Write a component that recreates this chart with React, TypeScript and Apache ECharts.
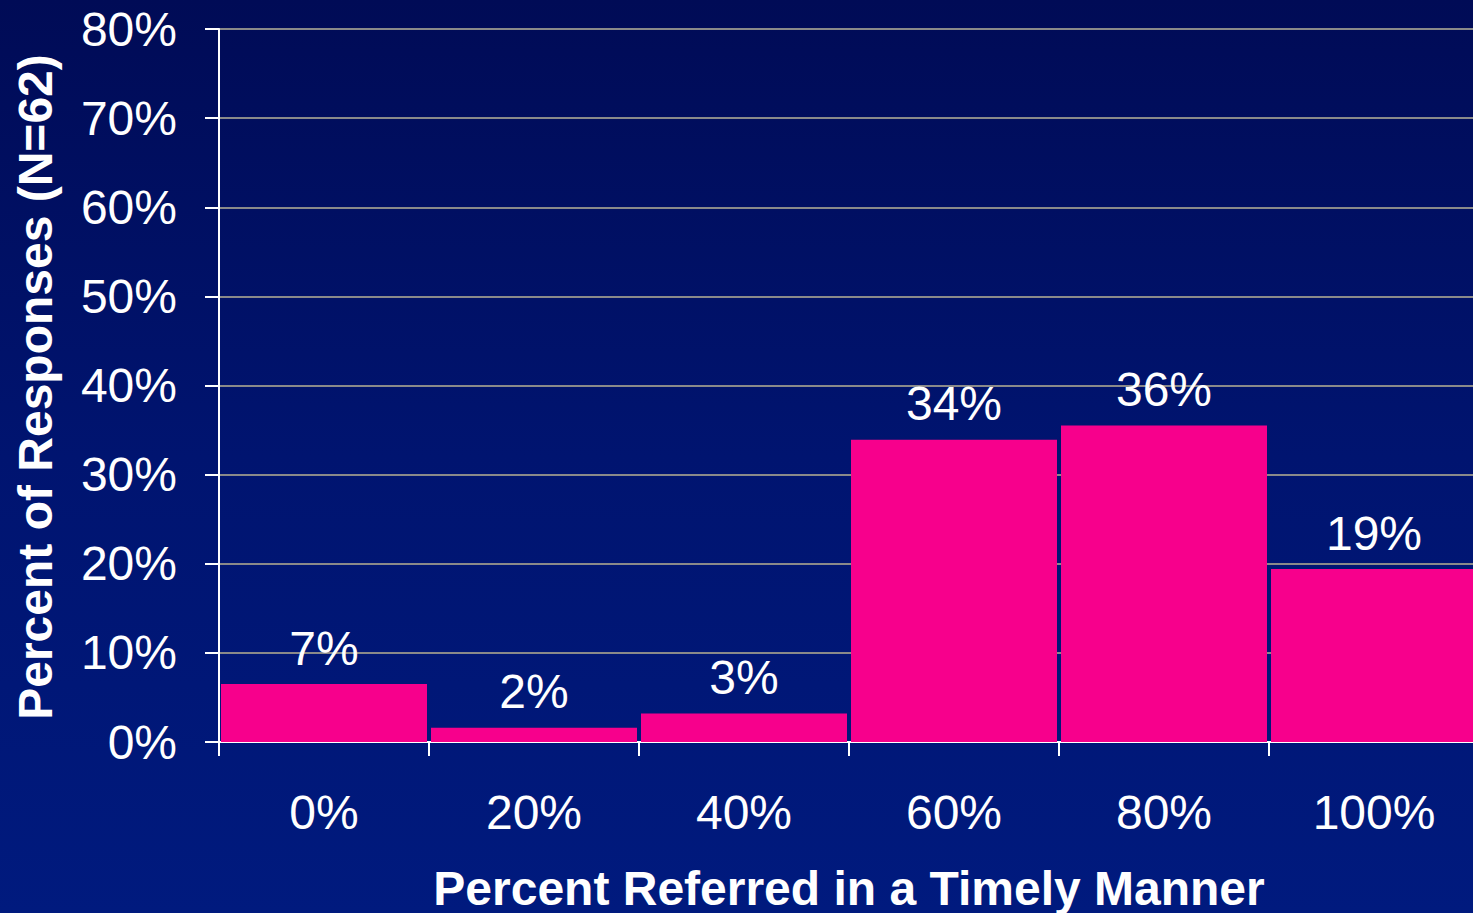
import React, { useEffect, useRef } from "react";
import * as echarts from "echarts";

const categories = ["0%", "20%", "40%", "60%", "80%", "100%"];
const values = [6.5, 1.6, 3.2, 33.9, 35.5, 19.4];
const yTitle = "Percent of Responses (N=62)";
const xTitle = "Percent Referred in a Timely Manner";

const FONT = "Arial, 'Liberation Sans', Helvetica, sans-serif";

export default function App() {
  const ref = useRef<HTMLDivElement>(null);
  useEffect(() => {
    document.body.style.margin = "0";
    document.body.style.overflow = "hidden";
    document.documentElement.style.overflow = "hidden";
    const chart = echarts.init(ref.current!, null, { renderer: "svg" });
    chart.setOption({
      animation: false,
      backgroundColor: "transparent",
      textStyle: { fontFamily: FONT },
      grid: { left: 219, top: 29, width: 1260, height: 713, containLabel: false },
      xAxis: {
        type: "category",
        data: categories,
        axisLine: { show: true, lineStyle: { color: "#ffffff", width: 2 } },
        axisTick: { show: true, length: 14, lineStyle: { color: "#ffffff", width: 2 } },
        axisLabel: { color: "#ffffff", fontSize: 48, margin: 46, fontFamily: FONT },
        splitLine: { show: false },
      },
      yAxis: {
        type: "value",
        min: 0,
        max: 80,
        interval: 10,
        axisLine: { show: true, lineStyle: { color: "#ffffff", width: 2 } },
        axisTick: { show: true, length: 14, lineStyle: { color: "#ffffff", width: 2 } },
        axisLabel: { color: "#ffffff", fontSize: 48, margin: 42, formatter: "{value}%", fontFamily: FONT },
        splitLine: { show: true, lineStyle: { color: "#8a8a8a", width: 2 } },
      },
      series: [
        {
          type: "bar",
          data: values,
          barWidth: 206,
          itemStyle: { color: "#f7008c" },
          label: {
            show: true,
            position: "top",
            distance: 12,
            color: "#ffffff",
            fontSize: 48,
            fontFamily: FONT,
            formatter: (p: any) => Math.round(p.value) + "%",
          },
        },
      ],
      graphic: [
        {
          type: "text",
          x: 35,
          y: 387,
          rotation: Math.PI / 2,
          style: {
            text: yTitle,
            fill: "#ffffff",
            font: `bold 48px ${FONT}`,
            textAlign: "center",
            textVerticalAlign: "middle",
          },
        },
        {
          type: "text",
          x: 849,
          y: 888,
          style: {
            text: xTitle,
            fill: "#ffffff",
            font: `bold 48px ${FONT}`,
            textAlign: "center",
            textVerticalAlign: "middle",
          },
        },
      ],
    });
    return () => chart.dispose();
  }, []);
  return (
    <div
      ref={ref}
      style={{
        width: 1480,
        height: 913,
        background: "linear-gradient(to bottom, #000b56 0%, #001470 50%, #001a7e 100%)",
      }}
    />
  );
}
